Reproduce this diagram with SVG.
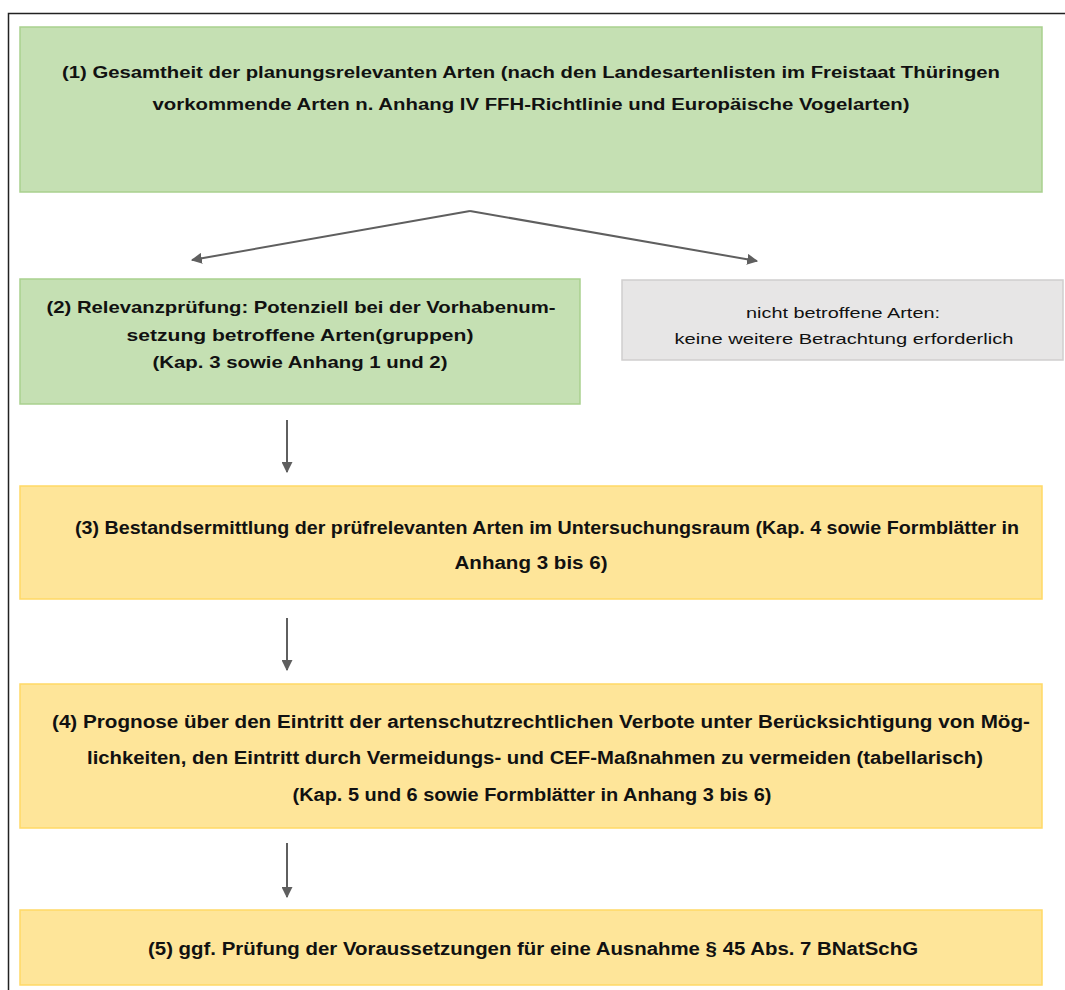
<svg xmlns="http://www.w3.org/2000/svg" width="1065" height="990" viewBox="0 0 1065 990">
<defs>
<marker id="ah" viewBox="0 0 10 10" refX="9" refY="5" markerWidth="5.5" markerHeight="5.5" orient="auto" markerUnits="strokeWidth">
<path d="M0,0 L10,5 L0,10 Z" fill="#5f5f5f"/>
</marker>
<style>
.green{fill:#c5e0b3;stroke:#a9d18e;stroke-width:1.5}
.yellow{fill:#fee599;stroke:#ffd966;stroke-width:1.5}
.gray{fill:#e7e6e6;stroke:#d0cece;stroke-width:1.5}
.t{font-family:"Liberation Sans",Arial,sans-serif;font-weight:bold;fill:#111111;text-anchor:middle}
.n{font-family:"Liberation Sans",Arial,sans-serif;fill:#111111;text-anchor:middle}
.c{stroke:#5f5f5f;stroke-width:2;fill:none;marker-end:url(#ah)}
</style>
</defs>
<rect width="1065" height="990" fill="#ffffff"/>
<path d="M8.5,990 L8.5,13.5 L1065,13.5" fill="none" stroke="#222" stroke-width="1.5"/>
<g id="node1">
<rect class="green" x="20" y="27" width="1022" height="165"/>
<text class="t" font-size="16" x="531" y="78" textLength="938" lengthAdjust="spacingAndGlyphs">(1) Gesamtheit der planungsrelevanten Arten (nach den Landesartenlisten im Freistaat Thüringen</text>
<text class="t" font-size="16" x="531" y="110" textLength="757" lengthAdjust="spacingAndGlyphs">vorkommende Arten n. Anhang IV FFH-Richtlinie und Europäische Vogelarten)</text>
</g>
<g id="node2">
<rect class="green" x="20" y="279" width="560" height="125"/>
<text class="t" font-size="16.5" x="301" y="313" textLength="509" lengthAdjust="spacingAndGlyphs">(2) Relevanzprüfung: Potenziell bei der Vorhabenum-</text>
<text class="t" font-size="16.5" x="300" y="341" textLength="347" lengthAdjust="spacingAndGlyphs">setzung betroffene Arten(gruppen)</text>
<text class="t" font-size="16.5" x="300" y="368" textLength="295" lengthAdjust="spacingAndGlyphs">(Kap. 3 sowie Anhang 1 und 2)</text>
</g>
<g id="nodeGray">
<rect class="gray" x="622" y="280" width="441" height="80"/>
<text class="n" font-size="15.5" x="843" y="318" textLength="194" lengthAdjust="spacingAndGlyphs">nicht betroffene Arten:</text>
<text class="n" font-size="15.5" x="844" y="344" textLength="339" lengthAdjust="spacingAndGlyphs">keine weitere Betrachtung erforderlich</text>
</g>
<g id="node3">
<rect class="yellow" x="20" y="486" width="1022" height="113"/>
<text class="t" font-size="17.5" x="547" y="534" textLength="944" lengthAdjust="spacingAndGlyphs">(3) Bestandsermittlung der prüfrelevanten Arten im Untersuchungsraum (Kap. 4 sowie Formblätter in</text>
<text class="t" font-size="17.5" x="531" y="569" textLength="153" lengthAdjust="spacingAndGlyphs">Anhang 3 bis 6)</text>
</g>
<g id="node4">
<rect class="yellow" x="20" y="684" width="1022" height="144"/>
<text class="t" font-size="17.5" x="541" y="728" textLength="978" lengthAdjust="spacingAndGlyphs">(4) Prognose über den Eintritt der artenschutzrechtlichen Verbote unter Berücksichtigung von Mög-</text>
<text class="t" font-size="17.5" x="535" y="764" textLength="896" lengthAdjust="spacingAndGlyphs">lichkeiten, den Eintritt durch Vermeidungs- und CEF-Maßnahmen zu vermeiden (tabellarisch)</text>
<text class="t" font-size="17.5" x="532" y="801" textLength="479" lengthAdjust="spacingAndGlyphs">(Kap. 5 und 6 sowie Formblätter in Anhang 3 bis 6)</text>
</g>
<g id="node5">
<rect class="yellow" x="20" y="910" width="1022" height="75"/>
<text class="t" font-size="17.5" x="533" y="955" textLength="770" lengthAdjust="spacingAndGlyphs">(5) ggf. Prüfung der Voraussetzungen für eine Ausnahme § 45 Abs. 7 BNatSchG</text>
</g>
<g id="connectors">
<path class="c" d="M470,211 L192,260"/>
<path class="c" d="M470,211 L757,261"/>
<path class="c" d="M287,420 L287,472"/>
<path class="c" d="M287,618 L287,670"/>
<path class="c" d="M287,843 L287,897"/>
</g>
</svg>
